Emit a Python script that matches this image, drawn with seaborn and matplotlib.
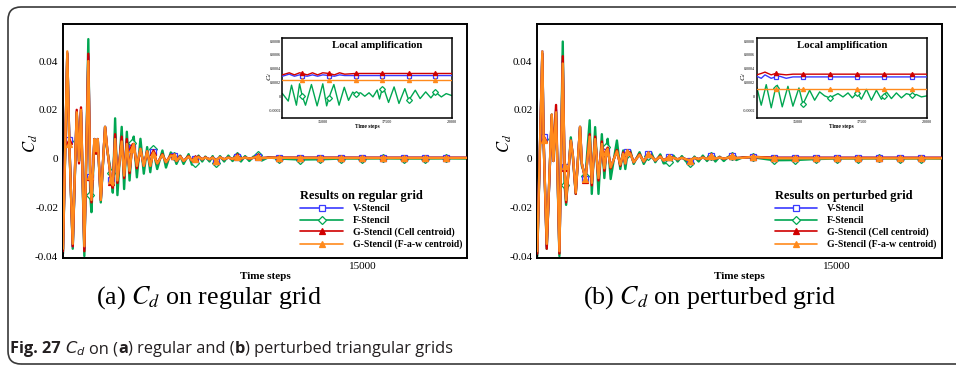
import numpy as np
import pandas as pd
import matplotlib
matplotlib.use("Agg")
import matplotlib.pyplot as plt
import seaborn as sns
from matplotlib.lines import Line2D
from matplotlib.patches import FancyBboxPatch
from matplotlib.transforms import IdentityTransform
from matplotlib.ticker import MultipleLocator

# ---------------- data: main plot, regular grid ----------------
t_reg = [700, 905, 1000, 1165, 1355, 1465, 1560, 1720, 1910, 2000,
         2060, 2200, 2280, 2360, 2505, 2710, 2800, 3000, 3080, 3190,
         3300, 3505, 3620, 3750, 3880, 4000, 4080, 4230, 4400, 4560,
         4720, 4870, 5000, 5200, 5450, 5620, 5850, 6000, 6120, 6300,
         6460, 6700, 6860, 7000, 7175, 7350, 7500, 7700, 7850, 8000,
         8200, 8400, 8600, 8800, 9000, 9200, 9400, 9600, 9800, 10000,
         10200, 10500, 11000, 12000, 13000, 14000, 15000, 16000, 17000, 18000,
         19000, 20000]
v_reg = [-0.037, 0.0435, 0.0075, -0.036, 0.019, -0.001, 0.020, -0.037, 0.042, -0.0075,
         -0.017, 0.008, 0.003, 0.008, -0.017, 0.013, 0.005, -0.009, -0.011, 0.009,
         -0.009, 0.008, -0.007, 0.007, -0.005, 0.0045, 0.006, -0.003, 0.004, -0.003,
         0.003, -0.003, 0.0025, -0.002, 0.0015, -0.0015, 0.0012, 0.0012, -0.001, 0.0008,
         -0.001, 0.0008, -0.0008, 0.0, 0.0006, -0.0003, 0.0004, -0.0003, 0.0004, -0.0008,
         0.0005, -0.0003, 0.0004, -0.0002, 0.0008, 0.0, 0.0004, 0.0, 0.0003, 0.0008,
         0.0002, 0.0003, 0.0003, 0.00032, 0.00032, 0.00032, 0.00031, 0.00031, 0.00031, 0.00031,
         0.00031, 0.00031]
f_reg = [-0.039, 0.043, 0.007, -0.037, 0.019, -0.001, 0.019, -0.040, 0.049, -0.015,
         -0.022, 0.008, 0.002, 0.008, -0.018, 0.013, 0.004, -0.006, -0.014, 0.0165,
         -0.015, 0.013, -0.0125, 0.011, -0.009, 0.0065, 0.009, -0.0077, 0.0081, -0.0062,
         0.0047, -0.0056, 0.004, -0.0043, 0.0033, -0.0037, 0.0025, 0.001, -0.0022, 0.0012,
         -0.0022, 0.0018, -0.0025, -0.002, 0.0012, -0.0012, 0.0008, -0.0012, 0.0010, -0.002,
         0.001, -0.0012, 0.0012, -0.001, 0.001, -0.0012, 0.001, -0.001, 0.0008, 0.0013,
         -0.0008, 0.0005, 0.0, -0.0004, -0.0003, 0.0, 0.0, 0.00005, 0.0, 0.0,
         0.00005, 0.0]
gc_reg = [-0.038, 0.043, 0.007, -0.036, 0.020, -0.002, 0.021, -0.038, 0.043, -0.0075,
          -0.018, 0.008, 0.002, 0.008, -0.017, 0.013, 0.005, -0.0095, -0.012, 0.010,
          -0.010, 0.009, -0.008, 0.008, -0.006, 0.005, 0.006, -0.004, 0.004, -0.003,
          0.003, -0.003, 0.0025, -0.002, 0.0018, -0.0015, 0.0015, 0.0012, -0.001, 0.001,
          -0.001, 0.001, -0.0008, 0.0002, 0.0008, -0.0003, 0.0005, -0.0003, 0.0004, -0.0008,
          0.0005, -0.0003, 0.0004, -0.0002, 0.0009, 0.0, 0.0004, 0.0, 0.0003, 0.0009,
          0.0002, 0.0004, 0.0004, 0.00035, 0.00035, 0.00035, 0.00034, 0.00033, 0.00033, 0.00033,
          0.00033, 0.00033]
gf_reg = [-0.037, 0.044, 0.006, -0.035, 0.019, -0.001, 0.020, -0.036, 0.040, -0.007,
          -0.017, 0.008, 0.003, 0.008, -0.017, 0.013, 0.005, -0.009, -0.011, 0.008,
          -0.009, 0.007, -0.007, 0.006, -0.005, 0.004, 0.006, -0.003, 0.004, -0.003,
          0.003, -0.003, 0.002, -0.002, 0.0015, -0.0015, 0.0012, 0.001, -0.001, 0.0008,
          -0.001, 0.0008, -0.0008, 0.0, 0.0006, -0.0003, 0.0004, -0.0003, 0.0004, -0.0008,
          0.0005, -0.0003, 0.0004, -0.0002, 0.0008, 0.0, 0.0004, 0.0, 0.0003, 0.0008,
          0.0002, 0.0003, 0.0003, 0.00025, 0.00023, 0.00023, 0.00023, 0.00023, 0.00023, 0.00023,
          0.00023, 0.00023]

# ---------------- data: main plot, perturbed grid ----------------
t_per = [700, 940, 1000, 1150, 1390, 1465, 1595, 1755, 1915, 2000,
         2075, 2300, 2400, 2535, 2740, 2825, 3000, 3200, 3300, 3460,
         3620, 3780, 3900, 4000, 4060, 4200, 4500, 4660, 4800, 4900,
         5000, 5135, 5300, 5580, 5780, 6000, 6130, 6330, 6570, 6730,
         7000, 7200, 7400, 7600, 7800, 8000, 8200, 8400, 8600, 8800,
         9000, 9200, 9400, 9600, 9800, 10000, 10200, 10500, 11000, 12000,
         13000, 14000, 15000, 16000, 17000, 18000, 19000, 20000]
v_per = [-0.038, 0.044, 0.009, -0.036, 0.017, -0.001, 0.020, -0.038, 0.040, -0.0036,
         -0.017, 0.0074, 0.001, -0.014, 0.013, -0.002, -0.0085, 0.009, -0.010, 0.008,
         -0.008, 0.006, -0.004, 0.0026, 0.004, -0.0036, 0.003, -0.0025, 0.002, -0.002,
         0.0026, 0.002, -0.0015, 0.0015, -0.0012, 0.0017, 0.001, -0.0008, 0.0008, -0.0008,
         0.0006, 0.0003, -0.0003, 0.0003, -0.0003, -0.0008, 0.0003, -0.0002, 0.0004, -0.0002,
         0.0012, 0.0, 0.0004, 0.0, 0.0003, 0.0012, 0.0002, 0.0003, 0.0007, 0.00029,
         0.00029, 0.00028, 0.00028, 0.00028, 0.00028, 0.00028, 0.00028, 0.00028]
f_per = [-0.040, 0.043, 0.008, -0.037, 0.018, -0.001, 0.019, -0.040, 0.048, -0.0107,
         -0.019, 0.0087, 0.0, -0.0145, 0.013, -0.003, -0.007, 0.0157, -0.0145, 0.0129,
         -0.0145, 0.010, -0.008, 0.0047, 0.0081, -0.0084, 0.0074, -0.0043, 0.0033, -0.0043,
         0.002, 0.0033, -0.0022, 0.0026, -0.0022, 0.0012, 0.0026, -0.0015, 0.0017, -0.002,
         -0.0015, 0.0012, -0.0012, 0.001, -0.0012, -0.002, 0.0008, -0.0012, 0.0012, -0.001,
         0.0012, -0.0012, 0.0008, -0.001, 0.0006, 0.0012, -0.0006, 0.0005, 0.0005, -0.0007,
         -0.0006, -0.0002, 0.0, 0.0, 0.00003, 0.0, 0.00002, 0.0]
gc_per = [-0.039, 0.043, 0.008, -0.037, 0.018, -0.001, 0.022, -0.039, 0.042, -0.004,
          -0.018, 0.0074, 0.001, -0.0145, 0.013, -0.002, -0.009, 0.010, -0.011, 0.009,
          -0.009, 0.007, -0.005, 0.003, 0.0045, -0.004, 0.0035, -0.003, 0.0025, -0.002,
          0.0026, 0.0025, -0.0015, 0.0018, -0.0012, 0.0017, 0.0012, -0.0008, 0.001, -0.0008,
          0.0008, 0.0003, -0.0003, 0.0003, -0.0003, -0.0008, 0.0003, -0.0002, 0.0004, -0.0002,
          0.0012, 0.0, 0.0004, 0.0, 0.0003, 0.0012, 0.0002, 0.0004, 0.0007, 0.00032,
          0.00032, 0.00032, 0.00032, 0.00032, 0.00032, 0.00032, 0.00032, 0.00032]
gf_per = [-0.038, 0.044, 0.0075, -0.035, 0.018, -0.001, 0.019, -0.038, 0.039, -0.003,
          -0.017, 0.0074, 0.001, -0.014, 0.013, -0.002, -0.0085, 0.009, -0.010, 0.008,
          -0.008, 0.006, -0.004, 0.0026, 0.004, -0.0036, 0.003, -0.0025, 0.002, -0.002,
          0.0026, 0.002, -0.0015, 0.0015, -0.0012, 0.0017, 0.001, -0.0008, 0.0008, -0.0008,
          0.0006, 0.0003, -0.0003, 0.0003, -0.0003, -0.0008, 0.0003, -0.0002, 0.0004, -0.0002,
          0.0012, 0.0, 0.0004, 0.0, 0.0003, 0.0012, 0.0002, 0.0003, 0.0007, 0.0001,
          0.0001, 0.0001, 0.0001, 0.0001, 0.0001, 0.0001, 0.0001, 0.0001]

marker_steps_main = [1000, 2000, 3000, 4000, 5000, 6000, 7000, 8000, 9000, 10000,
                     11000, 12000, 13000, 14000, 15000, 16000, 17000, 18000, 19000]

# ---------------- data: inset, regular grid ----------------
t_ins_reg = [13430, 13700, 13900, 14100, 14204, 14400, 14600, 14800, 15000, 15240,
             15450, 15650, 15850, 16276, 17299, 18334, 19370, 20000]
v_ins_reg = [0.00029, 0.00032, 0.00029, 0.00031, 0.00030, 0.00029, 0.00031, 0.00029, 0.00031, 0.00030,
             0.00029, 0.00031, 0.00030, 0.00030, 0.00030, 0.00030, 0.00030, 0.00030]
gc_ins_reg = [0.00031, 0.00034, 0.00031, 0.00034, 0.00033, 0.00031, 0.00034, 0.00031, 0.00034, 0.00033,
              0.00031, 0.00034, 0.00032, 0.00033, 0.00033, 0.00033, 0.00033, 0.00033]
gf_ins_reg = [0.00023, 0.00023, 0.00023, 0.00023, 0.00023, 0.00023, 0.00023, 0.00023, 0.00023, 0.00023,
              0.00023, 0.00023, 0.00023, 0.00023, 0.00023, 0.00023, 0.00023, 0.00023]
t_ins_f_reg = [13430, 13661, 13788, 13977, 14100, 14204, 14330, 14560, 14780, 15000,
               15150, 15240, 15430, 15632, 15834, 15998, 16162, 16276, 16465, 16629,
               16794, 16945, 17109, 17200, 17299, 17360, 17551, 17766, 17955, 18183,
               18334, 18587, 18776, 18991, 19193, 19370, 19598, 19787, 20000]
f_ins_reg = [0.00004, -0.00007, 0.00016, -0.00013, 0.00018, 0.0, -0.00013, 0.00017, -0.00014, 0.00018,
             -0.00014, -0.00002, 0.00017, -0.00013, 0.00013, -0.00006, 0.00006, 0.00003, 0.00005, 0.0,
             0.00005, -0.00001, 0.00009, -0.00004, 0.0001, 0.00012, -0.00009, 0.000135, -0.000105, 0.00011,
             -0.00006, 0.000087, -0.000034, 0.000063, -0.000024, 0.00006, -0.00001, 0.000038, 0.00001]
marker_steps_ins_reg = [14204, 15240, 16276, 17299, 18334, 19370]

# ---------------- data: inset, perturbed grid ----------------
t_ins_per = [13430, 13605, 13750, 13990, 14159, 14320, 14570, 14830, 15217, 16252,
             17310, 18357, 19419, 20000]
v_ins_per = [0.00029, 0.00026, 0.00031, 0.00026, 0.00028, 0.00029, 0.00026, 0.00028, 0.00028, 0.00028,
             0.00028, 0.00028, 0.00028, 0.00028]
gc_ins_per = [0.00031, 0.00033, 0.00035, 0.00031, 0.00033, 0.00032, 0.00031, 0.00032, 0.00032, 0.00032,
              0.00032, 0.00032, 0.00032, 0.00032]
gf_ins_per = [0.0001, 0.0001, 0.0001, 0.0001, 0.0001, 0.0001, 0.0001, 0.0001, 0.0001, 0.0001,
              0.0001, 0.0001, 0.0001, 0.0001]
t_ins_f_per = [13430, 13605, 13798, 13992, 14159, 14230, 14417, 14637, 14830, 15062,
               15217, 15475, 15669, 15863, 16056, 16252, 16572, 16765, 16959, 17127,
               17310, 17475, 17669, 17862, 18056, 18249, 18357, 18442, 18636, 18829,
               19023, 19216, 19419, 19603, 19797, 20000]
f_ins_per = [0.000135, -0.00013, 0.000168, -0.000168, 0.00012, 0.000159, -0.000154, 0.000144, -0.000144, 0.00012,
             -0.000115, 0.000087, -0.000058, 0.000063, 0.000005, -0.000024, 0.000038, -0.00001, 0.000048, -0.000024,
             0.00005, -0.000043, 0.0001, -0.000058, 0.000087, -0.000043, 0.0, 0.000063, -0.000034, 0.000048,
             -0.000024, 0.000038, 0.000014, 0.000024, -0.00001, 0.000005]
marker_steps_ins_per = [14159, 15217, 16252, 17310, 18357, 19419]

labels = ["V-Stencil", "F-Stencil", "G-Stencil (Cell centroid)", "G-Stencil (F-a-w centroid)"]
legend_titles = ["Results on regular grid", "Results on perturbed grid"]
main_xticks = [5000, 10000, 15000]
main_xticklabels = ["", "", "15000"]
main_yticks = [-0.04, -0.02, 0.0, 0.02, 0.04]
main_yticklabels = ["-0.04", "-0.02", "0", "0.02", "0.04"]
ins_xticks = [15000, 17500, 20000]
ins_xticklabels = ["15000", "17500", "20000"]
ins_yticks = [-0.0002, 0.0, 0.0002, 0.0004, 0.0006, 0.0008]
ins_yticklabels = ["-0.0002", "0", "0.0002", "0.0004", "0.0006", "0.0008"]
subcaptions = ["(a) $C_d$ on regular grid", "(b) $C_d$ on perturbed grid"]

# ---------------- style ----------------
sns.set_style("white")
plt.rcParams['font.family'] = ['Liberation Serif', 'DejaVu Serif']
plt.rcParams['mathtext.fontset'] = 'stix'
for k in ['text.color', 'axes.labelcolor', 'xtick.color', 'ytick.color']:
    plt.rcParams[k] = 'black'

BLUE, GREEN, RED, ORANGE = '#3a3aff', '#00a651', '#d00000', '#ff8a1c'
STY = {
    'V': dict(color=BLUE, marker='s', mfc='white', mec=BLUE),
    'F': dict(color=GREEN, marker='D', mfc='white', mec=GREEN),
    'GC': dict(color=RED, marker='^', mfc=RED, mec=RED),
    'GF': dict(color=ORANGE, marker='^', mfc=ORANGE, mec=ORANGE),
}

W, H = 956, 371
fig = plt.figure(figsize=(W / 100, H / 100), dpi=100)


def rect(l, t, r, b):
    return [l / W, 1 - b / H, (r - l) / W, (b - t) / H]


def draw(ax, t, v, key, lw, ms, marks, z):
    s = STY[key]
    idx = [i for i, x in enumerate(t) if x in marks]
    sns.lineplot(x=t, y=v, ax=ax, color=s['color'], linewidth=lw, marker=s['marker'],
                 markevery=idx, markersize=ms, markerfacecolor=s['mfc'],
                 markeredgecolor=s['mec'], markeredgewidth=0.9,
                 estimator=None, sort=False, legend=False, zorder=z)


def style_main(ax, title):
    ax.set_xlim(700, 20000)
    ax.set_ylim(-0.0408, 0.0552)
    ax.set_xticks(main_xticks)
    ax.set_xticklabels(main_xticklabels)
    ax.xaxis.set_minor_locator(MultipleLocator(1000))
    ax.set_yticks(main_yticks)
    ax.set_yticklabels(main_yticklabels)
    ax.yaxis.set_minor_locator(MultipleLocator(0.005))
    ax.tick_params(which='both', direction='in', top=False, right=False,
                   width=0.9, labelsize=8, colors='black')
    ax.tick_params(which='major', length=5)
    ax.tick_params(which='minor', length=3)
    ax.tick_params(axis='y', pad=3.5)
    ax.tick_params(axis='x', pad=3)
    for sp in ax.spines.values():
        sp.set_linewidth(1.4)
        sp.set_color('black')
    ax.set_xlabel('Time steps', fontsize=8, fontweight='bold', labelpad=0.5)
    ax.set_ylabel('$C_d$', fontsize=12)
    ax.yaxis.set_label_coords(-0.057, 0.49)
    handles = [Line2D([], [], color=STY[k]['color'], lw=1.2, marker=STY[k]['marker'],
                      markersize=4.5 if k != 'F' else 4, markerfacecolor=STY[k]['mfc'],
                      markeredgecolor=STY[k]['mec'], markeredgewidth=0.9)
               for k in ['V', 'F', 'GC', 'GF']]
    ax.legend(handles, labels, title=title, loc='upper left',
              bbox_to_anchor=(0.575, 0.312), frameon=False,
              prop=dict(weight='bold', size=7.0),
              title_fontproperties=dict(weight='bold', size=9.0),
              handlelength=4.4, handletextpad=1.0, labelspacing=0.26,
              borderpad=0, alignment='left', numpoints=1)


def style_inset(ax, title_x):
    ax.set_facecolor('white')
    ax.set_xlim(13430, 20000)
    ax.set_ylim(-0.00032, 0.00084)
    ax.set_xticks(ins_xticks)
    ax.set_xticklabels(ins_xticklabels)
    ax.xaxis.set_minor_locator(MultipleLocator(500))
    ax.set_yticks(ins_yticks)
    ax.set_yticklabels(ins_yticklabels)
    ax.yaxis.set_minor_locator(MultipleLocator(0.00005))
    ax.tick_params(which='both', direction='in', top=False, right=False,
                   width=0.5, labelsize=3, pad=1, colors='black')
    ax.tick_params(which='major', length=2.5)
    ax.tick_params(which='minor', length=1.3)
    for sp in ax.spines.values():
        sp.set_linewidth(1.1)
        sp.set_color('black')
    ax.set_xlabel('Time steps', fontsize=4, fontweight='bold', labelpad=0.5)
    ax.set_ylabel('$C_d$', fontsize=5)
    ax.yaxis.set_label_coords(-0.05, 0.52)
    ax.text(title_x, 0.915, 'Local amplification', transform=ax.transAxes,
            ha='center', va='center', fontsize=7.8, fontweight='bold')


# left panel
axL = fig.add_axes(rect(63, 24, 467, 258))
draw(axL, t_reg, f_reg, 'F', 1.7, 4, marker_steps_main, 2)
draw(axL, t_reg, v_reg, 'V', 1.7, 4.5, marker_steps_main, 3)
draw(axL, t_reg, gc_reg, 'GC', 1.7, 4.5, marker_steps_main, 4)
draw(axL, t_reg, gf_reg, 'GF', 1.7, 4.5, marker_steps_main, 5)
style_main(axL, legend_titles[0])

# right panel
axR = fig.add_axes(rect(537.3, 24, 941.7, 258))
draw(axR, t_per, f_per, 'F', 1.7, 4, marker_steps_main, 2)
draw(axR, t_per, v_per, 'V', 1.7, 4.5, marker_steps_main, 3)
draw(axR, t_per, gc_per, 'GC', 1.7, 4.5, marker_steps_main, 4)
draw(axR, t_per, gf_per, 'GF', 1.7, 4.5, marker_steps_main, 5)
style_main(axR, legend_titles[1])

# insets
insL = fig.add_axes(rect(282.3, 38.3, 451.7, 118.3))
draw(insL, t_ins_f_reg, f_ins_reg, 'F', 1.0, 3, marker_steps_ins_reg, 2)
draw(insL, t_ins_reg, v_ins_reg, 'V', 1.0, 3, marker_steps_ins_reg, 3)
draw(insL, t_ins_reg, gc_ins_reg, 'GC', 1.0, 3, marker_steps_ins_reg, 4)
draw(insL, t_ins_reg, gf_ins_reg, 'GF', 1.0, 3, marker_steps_ins_reg, 5)
style_inset(insL, 0.56)

insR = fig.add_axes(rect(756.7, 38.3, 926.7, 118.3))
draw(insR, t_ins_f_per, f_ins_per, 'F', 1.0, 3, marker_steps_ins_per, 2)
draw(insR, t_ins_per, v_ins_per, 'V', 1.0, 3, marker_steps_ins_per, 3)
draw(insR, t_ins_per, gc_ins_per, 'GC', 1.0, 3, marker_steps_ins_per, 4)
draw(insR, t_ins_per, gf_ins_per, 'GF', 1.0, 3, marker_steps_ins_per, 5)
style_inset(insR, 0.505)

# sub captions
fig.text(209 / W, 1 - 298 / H, subcaptions[0], ha='center', va='center', fontsize=18.7)
fig.text(710 / W, 1 - 298 / H, subcaptions[1], ha='center', va='center', fontsize=18.7)

# rounded frame
frame = FancyBboxPatch((8, H - 364), 1000, 357, boxstyle="round,pad=0,rounding_size=13",
                       transform=IdentityTransform(), fill=False, edgecolor='#3a3a3a',
                       linewidth=1.2)
fig.add_artist(frame)

# figure caption with mixed weights
renderer = fig.canvas.get_renderer()
cap_fam = ['Open Sans', 'DejaVu Sans']
segs = [("Fig. 27", 'bold', 0), ("$C_d$", 'normal', 4), ("on (", 'normal', 4),
        ("a", 'bold', 0), (") regular and (", 'normal', 0), ("b", 'bold', 0),
        (") perturbed triangular grids", 'normal', 0)]
xpix = 10
ycap = 1 - 349 / H
for s, w, gap in segs:
    xpix += gap
    tt = fig.text(xpix / W, ycap, s, fontweight=w, fontsize=11.8, family=cap_fam,
                  va='center', ha='left', math_fontfamily='dejavusans', color='#231f20')
    bb = tt.get_window_extent(renderer)
    xpix = bb.x1

fig.savefig('out.png', dpi=100)
